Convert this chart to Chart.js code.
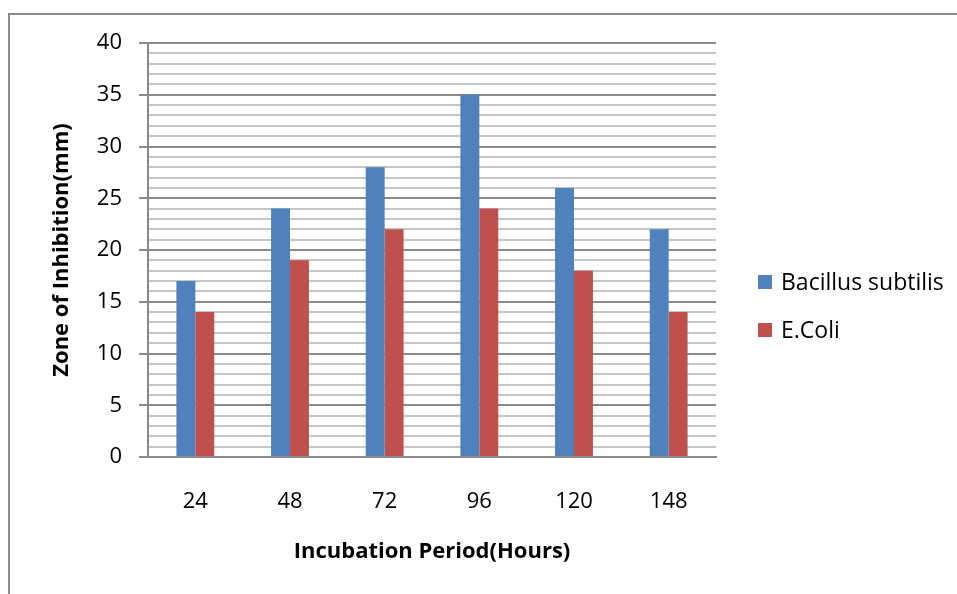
<!DOCTYPE html>
<html>
<head>
<meta charset="utf-8">
<title>Zone of Inhibition</title>
<script src="https://cdn.jsdelivr.net/npm/chart.js@4.4.1/dist/chart.umd.min.js"></script>
<style>
  html, body { margin: 0; padding: 0; background: #ffffff; }
  #chart-wrap { width: 957px; height: 594px; }
</style>
</head>
<body>
<div id="chart-wrap"><canvas id="zone-chart" width="957" height="594"></canvas></div>
<script>
"use strict";

// Chart data
var periods = ["24", "48", "72", "96", "120", "148"];
var bacillusValues = [17, 24, 28, 35, 26, 22];
var ecoliValues = [14, 19, 22, 24, 18, 14];
var seriesNames = ["Bacillus subtilis", "E.Coli"];

var FONT = "'Open Sans', 'Noto Sans', 'Liberation Sans', sans-serif";

// Grey frame round the chart (only top and left edges show in the picture)
var framePlugin = {
  id: "frame",
  beforeDraw: function (chart) {
    var ctx = chart.ctx;
    ctx.save();
    ctx.fillStyle = "#ffffff";
    ctx.fillRect(0, 0, chart.width, chart.height);
    ctx.strokeStyle = "#8a8a8a";
    ctx.lineWidth = 2;
    ctx.beginPath();
    ctx.moveTo(9, chart.height);
    ctx.lineTo(9, 14);
    ctx.lineTo(chart.width, 14);
    ctx.stroke();
    ctx.restore();
  },
};

// Legend drawn on the right, from the datasets
var sideLegendPlugin = {
  id: "sideLegend",
  afterDraw: function (chart) {
    var ctx = chart.ctx;
    var x = chart.chartArea.right + 42;
    var y = 282;
    ctx.save();
    ctx.font = "23px " + FONT;
    ctx.textBaseline = "middle";
    ctx.textAlign = "left";
    chart.data.datasets.forEach(function (ds, i) {
      var cy = y + i * 48;
      ctx.fillStyle = ds.backgroundColor;
      ctx.fillRect(x, cy - 7, 14, 14);
      ctx.fillStyle = "#000000";
      ctx.fillText(ds.label, x + 23, cy + 1);
    });
    ctx.restore();
  },
};

var ctx = document.getElementById("zone-chart").getContext("2d");

var zoneChart = new Chart(ctx, {
  type: "bar",
  data: {
    labels: periods,
    datasets: [
      {
        label: seriesNames[0],
        data: bacillusValues,
        backgroundColor: "#4F81BD",
        borderWidth: 0,
      },
      {
        label: seriesNames[1],
        data: ecoliValues,
        backgroundColor: "#C0504D",
        borderWidth: 0,
      },
    ],
  },
  options: {
    responsive: false,
    animation: false,
    devicePixelRatio: 1,
    layout: {
      padding: { top: 43, right: 241, bottom: 0, left: 0 },
    },
    datasets: {
      bar: { categoryPercentage: 0.4, barPercentage: 1.0 },
    },
    plugins: {
      legend: { display: false },
      tooltip: { enabled: false },
    },
    scales: {
      x: {
        offset: true,
        grid: { display: false, drawTicks: false },
        border: { display: true, color: "#8a8a8a", width: 2 },
        ticks: {
          color: "#000000",
          font: { family: FONT, size: 22 },
          padding: 32,
        },
        title: {
          display: true,
          text: "Incubation Period(Hours)",
          color: "#000000",
          font: { family: FONT, size: 22, weight: "bold" },
          padding: { top: 0, bottom: 29 },
        },
        afterFit: function (scale) {
          scale.height = 137;
        },
      },
      y: {
        min: 0,
        max: 40,
        grid: {
          color: function (c) {
            return c.tick && c.tick.value % 5 === 0 ? "#8a8a8a" : "#c6c6c6";
          },
          lineWidth: 2,
          tickLength: 9,
          tickColor: function (c) {
            return c.tick && c.tick.value % 5 === 0 ? "#8a8a8a" : "rgba(0,0,0,0)";
          },
        },
        border: { display: true, color: "#8a8a8a", width: 2 },
        ticks: {
          stepSize: 1,
          autoSkip: false,
          color: "#000000",
          font: { family: FONT, size: 22 },
          padding: 17,
          callback: function (value) {
            return value % 5 === 0 ? value : "";
          },
        },
        title: {
          display: true,
          text: "Zone of Inhibition(mm)",
          color: "#000000",
          font: { family: FONT, size: 22, weight: "bold" },
          padding: { top: 49, bottom: 0 },
        },
        afterFit: function (scale) {
          scale.width = 148;
        },
      },
    },
  },
  plugins: [framePlugin, sideLegendPlugin],
});
</script>
</body>
</html>
